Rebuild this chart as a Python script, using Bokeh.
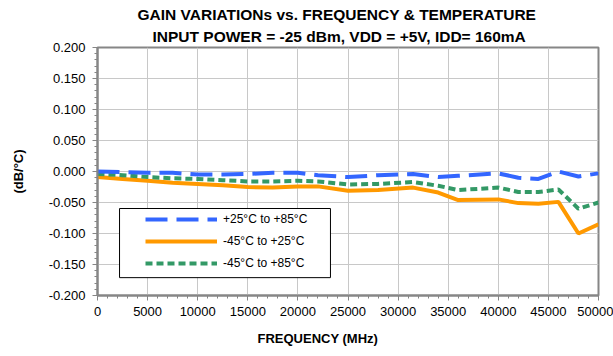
from bokeh.plotting import figure
from bokeh.models import (Title, Legend, LegendItem, SingleIntervalTicker,
                          PrintfTickFormatter, Range1d, BoxAnnotation)
from bokeh.embed import file_html
from bokeh.resources import INLINE

# ---- data ----
freq_mhz = [0, 2500, 5000, 7500, 10000, 12500, 15000, 17500, 20000, 22000, 25000,
            28000, 31500, 34000, 36000, 40000, 42000, 44000, 46000, 48000, 50000]
p25_to_p85 = [0.000, -0.001, -0.002, -0.002, -0.005, -0.005, -0.004, -0.002, -0.002, -0.006, -0.009,
              -0.006, -0.004, -0.009, -0.007, -0.003, -0.010, -0.012, 0.000, -0.008, -0.003]
m45_to_p25 = [-0.009, -0.012, -0.015, -0.018, -0.020, -0.022, -0.025, -0.026, -0.024, -0.024, -0.031,
              -0.030, -0.026, -0.034, -0.046, -0.045, -0.051, -0.052, -0.049, -0.100, -0.085]
m45_to_p85 = [-0.004, -0.006, -0.009, -0.011, -0.012, -0.014, -0.016, -0.016, -0.015, -0.016, -0.021,
              -0.020, -0.017, -0.023, -0.030, -0.026, -0.033, -0.033, -0.029, -0.060, -0.050]
series_labels = ["+25°C to +85°C", "-45°C to +25°C", "-45°C to +85°C"]
title_lines = ["GAIN VARIATIONs vs. FREQUENCY & TEMPERATURE",
               "INPUT POWER = -25 dBm, VDD = +5V, IDD= 160mA"]
x_title = "FREQUENCY (MHz)"
y_title = "(dB/°C)"

FONT = "Liberation Sans"
GREY = "#868686"

p = figure(width=613, height=356, output_backend="svg", toolbar_location=None,
           x_range=Range1d(0, 50000), y_range=Range1d(-0.2, 0.2),
           min_border_left=97, min_border_right=15, min_border_top=47, min_border_bottom=61)
p.background_fill_color = "white"
p.border_fill_color = "white"
p.outline_line_color = GREY
p.outline_line_width = 2

# titles (first added = nearest to frame)
t2 = Title(text=title_lines[1], align="left", offset=55, text_font=FONT, text_font_size="15.5px",
           text_font_style="bold", text_color="black", standoff=6)
t1 = Title(text=title_lines[0], align="left", offset=40, text_font=FONT, text_font_size="15.5px",
           text_font_style="bold", text_color="black", standoff=0)
p.add_layout(t2, "above")
p.add_layout(t1, "above")

# axes
p.xaxis.ticker = SingleIntervalTicker(interval=5000, num_minor_ticks=5)
p.yaxis.ticker = SingleIntervalTicker(interval=0.05, num_minor_ticks=5)
p.yaxis.formatter = PrintfTickFormatter(format="%.3f")
p.xaxis.formatter = PrintfTickFormatter(format="%d")
for ax in (p.xaxis[0], p.yaxis[0]):
    ax.axis_line_color = GREY
    ax.axis_line_width = 2
    ax.major_tick_line_color = GREY
    ax.minor_tick_line_color = GREY
    ax.major_tick_in = 0
    ax.major_tick_out = 5
    ax.minor_tick_in = 0
    ax.minor_tick_out = 3
    ax.major_label_text_font = FONT
    ax.major_label_text_font_size = "13px"
    ax.major_label_text_color = "black"
    ax.axis_label_text_font = FONT
    ax.axis_label_text_font_size = "13px"
    ax.axis_label_text_font_style = "bold"
    ax.axis_label_text_color = "black"
p.yaxis.axis_label = y_title
p.xaxis.major_label_standoff = 6
p.yaxis.major_label_standoff = 7
p.yaxis.axis_label_standoff = 20

xt = Title(text=x_title, align="left", offset=160, text_font=FONT, text_font_size="13px",
           text_font_style="bold", text_color="black", standoff=21)
p.add_layout(xt, "below")

p.grid.grid_line_color = "#c8c8c8"
p.grid.grid_line_width = 1

# series
r_or = p.line(freq_mhz, m45_to_p25, line_color="#FF9900", line_width=4)
r_gr = p.line(freq_mhz, m45_to_p85, line_color="#339966", line_width=4, line_dash="7 4")
r_bl = p.line(freq_mhz, p25_to_p85, line_color="#3366FF", line_width=4, line_dash="22 9")

# legend box
box = BoxAnnotation(left=2200, right=23250, top=-0.0597, bottom=-0.1712,
                    fill_color="white", fill_alpha=1.0, line_color="black", line_width=1,
                    line_alpha=1.0)
p.add_layout(box)

legend = Legend(items=[LegendItem(label=series_labels[0], renderers=[r_bl]),
                       LegendItem(label=series_labels[1], renderers=[r_or]),
                       LegendItem(label=series_labels[2], renderers=[r_gr])],
                location=(48, 21), padding=0, margin=0, spacing=0,
                glyph_width=72, glyph_height=22, label_height=22, label_standoff=6,
                label_text_font=FONT, label_text_font_size="12px", label_text_color="black",
                border_line_alpha=0, background_fill_alpha=0)
p.add_layout(legend, "center")

open("out.html", "w").write(file_html(p, INLINE))
